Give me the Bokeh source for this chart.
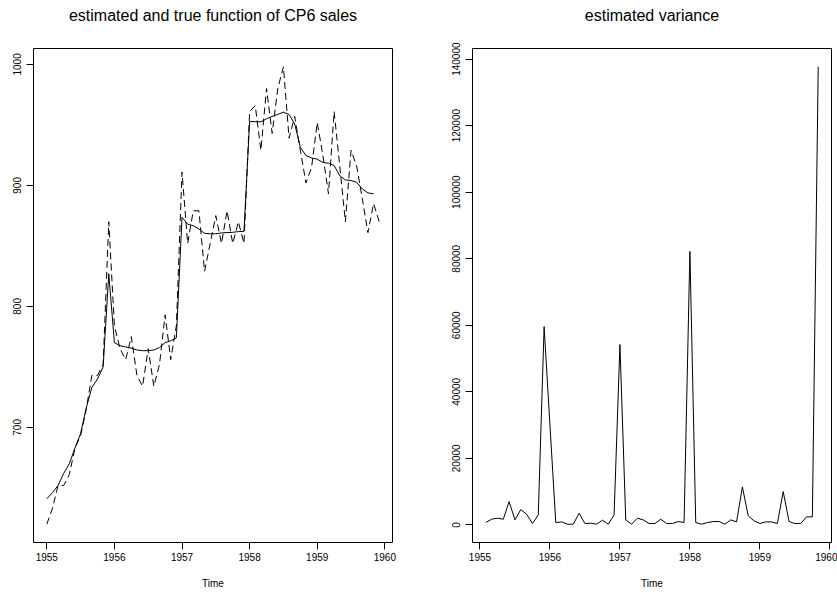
from bokeh.plotting import figure
from bokeh.layouts import row
from bokeh.models import Range1d, FixedTicker, NumeralTickFormatter, LinearAxis
from bokeh.embed import file_html
from bokeh.resources import INLINE

# ---- data (monthly, start Jan 1955) ----
start_year = 1955
sales = [620, 633, 652, 652, 661, 683, 693, 715, 743, 743, 752, 870,
         784, 765, 756, 775, 743, 734, 765, 734, 752, 793, 756, 784,
         911, 852, 879, 879, 829, 852, 875, 852, 879, 852, 870, 852,
         961, 966, 929, 980, 943, 980, 998, 939, 957, 929, 902, 915,
         952, 925, 893, 961, 916, 870, 929, 916, 889, 861, 885, 870]
# estimated function, Jan 1955 .. Nov 1959
estimate = [641, 646, 652, 662, 670, 683, 695, 716, 733, 740, 750, 827,
            770, 767.5, 766.5, 765.5, 764, 763.4, 763.4, 764, 766, 770, 771.6, 774,
            873.6, 868, 866.7, 864, 860.4, 860, 860, 860.7, 861, 861.2, 861.8, 862,
            952.7, 952.7, 952.5, 955, 957, 958.6, 960.5, 958.6, 950.8, 931.5, 924.6, 922.7,
            921.6, 919, 918.3, 916.4, 908, 904.5, 904, 902.6, 897, 893.8, 893]
# estimated variance, Feb 1955 .. Nov 1959
variance = [700, 1700, 2000, 1700, 7000, 1500, 4600, 3200, 400, 3000, 59600,
            30000, 700, 900, 200, 200, 3500, 400, 500, 200, 1400, 200, 3000,
            54200, 1500, 200, 2000, 1500, 400, 400, 1700, 400, 400, 1000, 700,
            82200, 700, 200, 700, 1000, 1000, 200, 1500, 900, 11400, 2700, 1200,
            400, 900, 900, 400, 10000, 1000, 400, 400, 2400, 2400, 137700]

year_ticks = [1955, 1956, 1957, 1958, 1959, 1960]
left_y_ticks = [700, 800, 900, 1000]
right_y_ticks = [0, 20000, 40000, 60000, 80000, 100000, 120000, 140000]
titles = ["estimated and true function of CP6 sales", "estimated variance"]

t_sales = [start_year + i / 12 for i in range(len(sales))]
t_est = [start_year + i / 12 for i in range(len(estimate))]
t_var = [start_year + (i + 1) / 12 for i in range(len(variance))]

FONT = "Liberation Sans"
FW, FH = 359, 494


def r_range(vals):
    lo, hi = min(vals), max(vals)
    pad = 0.04 * (hi - lo)
    return Range1d(lo - pad, hi + pad)


def style(p, yticks, title):
    top = LinearAxis(ticker=FixedTicker(ticks=[]), axis_label=title,
                     axis_line_color=None, major_tick_line_color=None,
                     minor_tick_line_color=None,
                     major_label_text_font_size="0px",
                     major_tick_out=0, major_tick_in=0, major_label_standoff=0,
                     axis_label_standoff=25,
                     axis_label_text_font=FONT,
                     axis_label_text_font_size="16px",
                     axis_label_text_font_style="normal",
                     axis_label_text_color="black")
    p.add_layout(top, "above")
    p.outline_line_color = "black"
    p.outline_line_width = 1
    p.outline_line_alpha = 1
    p.xgrid.visible = False
    p.ygrid.visible = False
    p.background_fill_color = "white"
    p.border_fill_color = "white"
    xa, ya = p.below[0], p.left[0]
    xa.ticker = FixedTicker(ticks=year_ticks)
    ya.ticker = FixedTicker(ticks=yticks)
    xa.formatter = NumeralTickFormatter(format="0")
    ya.formatter = NumeralTickFormatter(format="0")
    for ax in (xa, ya):
        ax.axis_line_color = None
        ax.major_tick_line_color = "black"
        ax.major_tick_out = 7
        ax.major_tick_in = 0
        ax.minor_tick_line_color = None
        ax.major_label_text_font = FONT
        ax.major_label_text_font_size = "10px"
        ax.major_label_text_color = "black"
    xa.major_label_standoff = 3
    ya.major_label_standoff = 5
    ya.major_label_orientation = "vertical"
    xa.axis_label = "Time"
    xa.axis_label_text_font = FONT
    xa.axis_label_text_font_size = "10px"
    xa.axis_label_text_font_style = "normal"
    xa.axis_label_text_color = "black"
    xa.axis_label_standoff = 14


p1 = figure(frame_width=FW, frame_height=FH,
            min_border_left=33, min_border_right=26,
            min_border_top=48, min_border_bottom=52,
            x_range=r_range(t_sales), y_range=r_range(sales + estimate),
            output_backend="svg", toolbar_location=None)
style(p1, left_y_ticks, titles[0])
p1.line(t_sales, sales, line_color="black", line_width=1, line_dash="7 4")
p1.line(t_est, estimate, line_color="black", line_width=1)

p2 = figure(frame_width=FW, frame_height=FH,
            min_border_left=54, min_border_right=6,
            min_border_top=48, min_border_bottom=52,
            x_range=r_range(t_var), y_range=r_range(variance),
            output_backend="svg", toolbar_location=None)
style(p2, right_y_ticks, titles[1])
p2.line(t_var, variance, line_color="black", line_width=1)

layout = row(p1, p2)
open("out.html", "w").write(file_html(layout, INLINE))
